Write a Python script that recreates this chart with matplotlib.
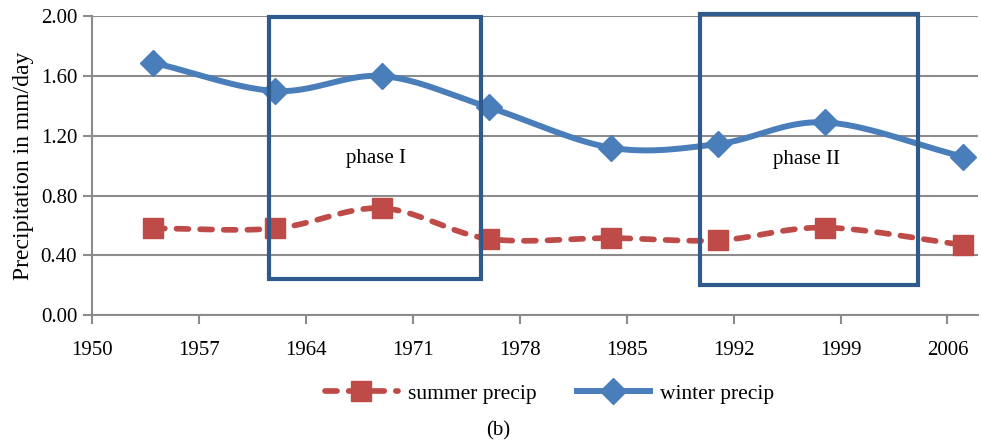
import numpy as np
import matplotlib
matplotlib.use("Agg")
import matplotlib.pyplot as plt
from matplotlib.lines import Line2D
from matplotlib.patches import Rectangle

plt.rcParams['font.family'] = ['Liberation Serif', 'DejaVu Serif']

years = [1954, 1962, 1969, 1976, 1984, 1991, 1998, 2007]
summer = [0.58, 0.58, 0.715, 0.51, 0.515, 0.50, 0.585, 0.47]
winter = [1.69, 1.50, 1.60, 1.39, 1.12, 1.145, 1.29, 1.06]

xticks = [1950, 1957, 1964, 1971, 1978, 1985, 1992, 1999, 2006]
yticks = [0.0, 0.4, 0.8, 1.2, 1.6, 2.0]

# phase windows: (x0, x1, y0, y1)
phases = [("phase I", 1961.6, 1975.5, 0.24, 1.995, 1968.6, 1.05),
          ("phase II", 1989.8, 2004.1, 0.20, 2.015, 1996.8, 1.04)]

RED = "#be4b48"
BLUE = "#4a7ebb"
BOX = "#2e5a8c"
GRID = "#8c8c8c"


def smooth(x, y, n=40):
    # catmull-rom through the points, like a spreadsheet "smoothed line"
    x = np.asarray(x, float)
    y = np.asarray(y, float)
    px = np.concatenate([[2 * x[0] - x[1]], x, [2 * x[-1] - x[-2]]])
    py = np.concatenate([[2 * y[0] - y[1]], y, [2 * y[-1] - y[-2]]])
    xs, ys = [], []
    t = np.linspace(0, 1, n)
    for i in range(1, len(px) - 2):
        for p, out in ((px, xs), (py, ys)):
            p0, p1, p2, p3 = p[i - 1], p[i], p[i + 1], p[i + 2]
            out.extend(0.5 * ((2 * p1) + (-p0 + p2) * t
                              + (2 * p0 - 5 * p1 + 4 * p2 - p3) * t ** 2
                              + (-p0 + 3 * p1 - 3 * p2 + p3) * t ** 3))
    return np.array(xs), np.array(ys)


fig = plt.figure(figsize=(9.81, 4.41), dpi=100)
ax = fig.add_axes([0.0935, 0.2857, 0.9035, 0.6773])

sx, sy = smooth(years, summer)
wx, wy = smooth(years, winter)
ax.plot(sx, sy, color=RED, lw=4.1, dashes=(2.1, 2.05), dash_capstyle='round', zorder=3)
ax.plot(years, summer, ls='none', marker='s', ms=15, color=RED, zorder=4)
ax.plot(wx, wy, color=BLUE, lw=4.3, solid_capstyle='round', zorder=3)
ax.plot(years, winter, ls='none', marker='D', ms=13, color=BLUE, zorder=4)

for name, x0, x1, y0, y1, tx, ty in phases:
    ax.add_patch(Rectangle((x0, y0), x1 - x0, y1 - y0, fill=False,
                           ec=BOX, lw=3.0, clip_on=False, zorder=5))
    ax.text(tx, ty, name, ha='center', va='center', fontsize=15)

ax.set_xlim(1950, 2008)
ax.set_ylim(0, 2.0)
ax.set_xticks(xticks)
ax.set_yticks(yticks)
ax.set_yticklabels(["%.2f" % v for v in yticks])
ax.yaxis.grid(True, color=GRID, lw=1.5)
ax.set_axisbelow(True)
for s in ("top", "right"):
    ax.spines[s].set_visible(False)
for s in ("left", "bottom"):
    ax.spines[s].set_color(GRID)
    ax.spines[s].set_linewidth(1.5)
ax.tick_params(axis='both', colors=GRID, width=1.5, length=6.5, labelsize=15,
               labelcolor='black')
ax.tick_params(axis='x', pad=12)
ax.tick_params(axis='y', pad=4)
ax.set_ylabel("Precipitation in mm/day", fontsize=17, labelpad=5)

handles = [Line2D([], [], color=RED, lw=4.1, dashes=(2.1, 2.05), dash_capstyle='round',
                  marker='s', ms=15),
           Line2D([], [], color=BLUE, lw=4.3, marker='D', ms=13)]
fig.legend(handles, ["summer precip", "winter precip"], loc='center',
           bbox_to_anchor=(0.560, 0.107), ncol=2, frameon=False, fontsize=15.5,
           handlelength=3.4, handletextpad=0.47, columnspacing=1.86, numpoints=1)
fig.text(0.508, 0.022, "(b)", ha='center', va='center', fontsize=15)

fig.savefig("out.png", dpi=100, facecolor='white')
